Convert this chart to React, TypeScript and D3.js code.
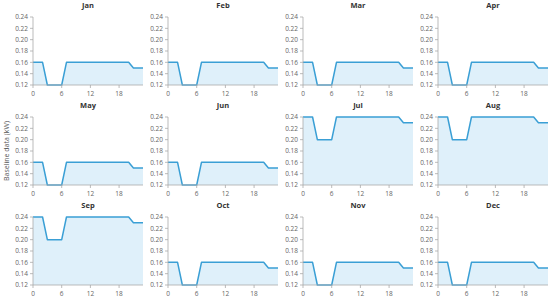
import React from "react";
import * as d3 from "d3";

const months = ["Jan", "Feb", "Mar", "Apr", "May", "Jun", "Jul", "Aug", "Sep", "Oct", "Nov", "Dec"];
const hours = [0, 1, 2, 3, 4, 5, 6, 7, 8, 9, 10, 11, 12, 13, 14, 15, 16, 17, 18, 19, 20, 21, 22, 23];
const lowProfile = [0.16, 0.16, 0.16, 0.12, 0.12, 0.12, 0.12, 0.16, 0.16, 0.16, 0.16, 0.16, 0.16, 0.16, 0.16, 0.16, 0.16, 0.16, 0.16, 0.16, 0.16, 0.15, 0.15, 0.15];
const highProfile = [0.24, 0.24, 0.24, 0.2, 0.2, 0.2, 0.2, 0.24, 0.24, 0.24, 0.24, 0.24, 0.24, 0.24, 0.24, 0.24, 0.24, 0.24, 0.24, 0.24, 0.24, 0.23, 0.23, 0.23];
const monthSeries = [lowProfile, lowProfile, lowProfile, lowProfile, lowProfile, lowProfile, highProfile, highProfile, highProfile, lowProfile, lowProfile, lowProfile];
const xTicks = [0, 6, 12, 18];
const yTicks = [0.12, 0.14, 0.16, 0.18, 0.2, 0.22, 0.24];
const yLabel = "Baseline data (kW)";

const W = 550, H = 303;
const FONT = "'Open Sans', 'Noto Sans', sans-serif";

function Panel({ name, values, col, row }: { name: string; values: number[]; col: number; row: number }) {
  const left = 33 + 135 * col;
  const top = 17 + 100 * row;
  const pw = 110, ph = 68;
  const x = d3.scaleLinear().domain([0, 23]).range([0, pw]);
  const y = d3.scaleLinear().domain([0.12, 0.24]).range([ph, 0]);
  const pts = hours.map((h, i) => [h, values[i]] as [number, number]);
  const area = d3.area<[number, number]>().x(d => x(d[0])).y0(ph).y1(d => y(d[1]))(pts) || "";
  const line = d3.line<[number, number]>().x(d => x(d[0])).y(d => y(d[1]))(pts) || "";
  return (
    <g transform={`translate(${left},${top})`}>
      <text x={pw / 2} y={-9} textAnchor="middle" fontSize={7.5} fontWeight="bold" fill="#333" fontFamily={FONT}>{name}</text>
      <path d={area} fill="#dff0fa" />
      <path d={line} fill="none" stroke="#3a9fd5" strokeWidth={1.5} strokeLinejoin="round" />
      <line x1={0} x2={0} y1={0} y2={ph} stroke="#aaa" strokeWidth={0.8} />
      <line x1={0} x2={pw} y1={ph} y2={ph} stroke="#aaa" strokeWidth={0.8} />
      {yTicks.map(t => (
        <g key={t} transform={`translate(0,${y(t)})`}>
          <line x1={-3} x2={0} stroke="#aaa" strokeWidth={0.8} />
          <text x={-5} dy="0.35em" textAnchor="end" fontSize={6.5} fill="#666" fontFamily={FONT}>{t.toFixed(2)}</text>
        </g>
      ))}
      {xTicks.map(t => (
        <g key={t} transform={`translate(${x(t)},${ph})`}>
          <line y1={0} y2={3} stroke="#aaa" strokeWidth={0.8} />
          <text y={11} textAnchor="middle" fontSize={6.5} fill="#666" fontFamily={FONT}>{t}</text>
        </g>
      ))}
    </g>
  );
}

export default function App() {
  return (
    <svg width={W} height={H} style={{ display: "block", position: "absolute", left: 0, top: 0 }}>
      <rect width={W} height={H} fill="#fff" />
      {months.map((m, i) => (
        <Panel key={m} name={m} values={monthSeries[i]} col={i % 4} row={Math.floor(i / 4)} />
      ))}
      <text transform={`translate(9,151) rotate(-90)`} textAnchor="middle" fontSize={7} fill="#555" fontFamily={FONT}>{yLabel}</text>
    </svg>
  );
}
